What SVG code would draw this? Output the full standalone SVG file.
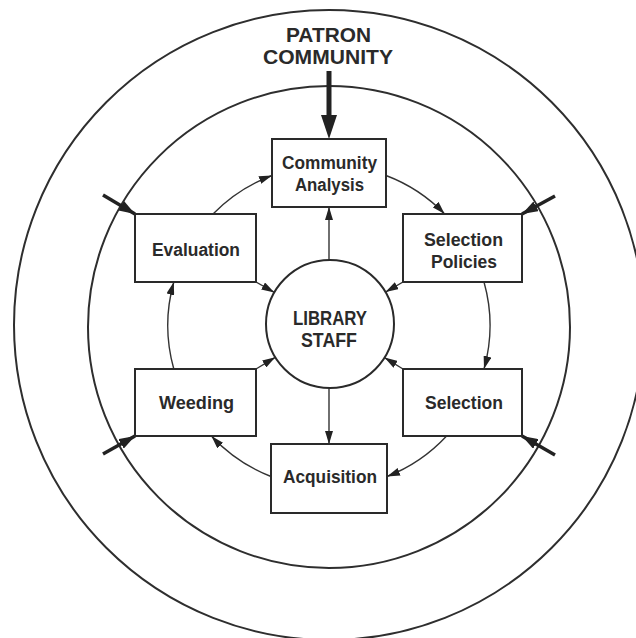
<svg xmlns="http://www.w3.org/2000/svg" width="636" height="638" viewBox="0 0 636 638">
<defs>
<style>
.ring{fill:none;stroke:#2e2e2e;stroke-width:2}
.box{fill:#fff;stroke:#2a2a2a;stroke-width:2}
.ln{fill:none;stroke:#333;stroke-width:1.4}
.thick{fill:none;stroke:#222;stroke-width:3.5}
text{font-family:"Liberation Sans",Arial,sans-serif;font-weight:bold;fill:#2a2a2a;text-anchor:middle}
.bt{font-size:17.5px}
.ct{font-size:21px}
.pt{font-size:19.5px}
</style>
<marker id="ah" markerUnits="userSpaceOnUse" markerWidth="13" markerHeight="8" refX="13" refY="4" orient="auto">
<path d="M0,0 L13,4 L0,8 z" fill="#222"/>
</marker>
<marker id="ahc" markerUnits="userSpaceOnUse" markerWidth="16" markerHeight="11" refX="16" refY="5.5" orient="auto">
<path d="M0,0 L16,5.5 L0,11 z" fill="#222"/>
</marker>
</defs>
<g id="patron-community">
<circle class="ring" cx="329" cy="325" r="315"/>
<text class="pt" x="328.5" y="42" textLength="85" lengthAdjust="spacingAndGlyphs">PATRON</text>
<text class="pt" x="328" y="64" textLength="130" lengthAdjust="spacingAndGlyphs">COMMUNITY</text>
</g>
<g id="library-ring">
<circle class="ring" cx="329" cy="327" r="241"/>
</g>
<g id="connectors">
<line x1="329" y1="71" x2="329" y2="118" stroke="#222" stroke-width="5"/>
<polygon points="321,115 337,115 329,139" fill="#222"/>
<line class="thick" x1="103" y1="195" x2="135" y2="214" marker-end="url(#ahc)"/>
<line class="thick" x1="555" y1="196" x2="522" y2="214" marker-end="url(#ahc)"/>
<line class="thick" x1="103" y1="454" x2="135" y2="436" marker-end="url(#ahc)"/>
<line class="thick" x1="555" y1="455" x2="522" y2="436" marker-end="url(#ahc)"/>
<path class="ln" d="M213,214 A161,161 0 0 1 272,175.5" marker-end="url(#ah)"/>
<path class="ln" d="M386,175.5 A161,161 0 0 1 444.7,214" marker-end="url(#ah)"/>
<path class="ln" d="M484,282 A161,161 0 0 1 484,369" marker-end="url(#ah)"/>
<path class="ln" d="M446.6,436 A161,161 0 0 1 387,476.5" marker-end="url(#ah)"/>
<path class="ln" d="M271,476.5 A161,161 0 0 1 211.4,436" marker-end="url(#ah)"/>
<path class="ln" d="M173.8,369 A161,161 0 0 1 173.8,282" marker-end="url(#ah)"/>
<line class="ln" x1="329" y1="260" x2="329" y2="207" marker-end="url(#ah)"/>
<line class="ln" x1="329" y1="388" x2="329" y2="444" marker-end="url(#ah)"/>
<line class="ln" x1="256" y1="282" x2="274.4" y2="292.4" marker-end="url(#ah)"/>
<line class="ln" x1="403" y1="282" x2="385.5" y2="292.1" marker-end="url(#ah)"/>
<line class="ln" x1="256" y1="369" x2="275.3" y2="357.3" marker-end="url(#ah)"/>
<line class="ln" x1="403" y1="369" x2="384.5" y2="357.6" marker-end="url(#ah)"/>
</g>
<g id="library-staff">
<circle cx="330" cy="324" r="64" fill="#fff" stroke="#2a2a2a" stroke-width="2"/>
<text class="ct" x="330" y="325" textLength="74" lengthAdjust="spacingAndGlyphs">LIBRARY</text>
<text class="ct" x="329" y="347" textLength="56" lengthAdjust="spacingAndGlyphs">STAFF</text>
</g>
<g id="community-analysis">
<rect class="box" x="272" y="139" width="114" height="68"/>
<text class="bt" x="329.5" y="169" textLength="95" lengthAdjust="spacingAndGlyphs">Community</text>
<text class="bt" x="329.5" y="191" textLength="69" lengthAdjust="spacingAndGlyphs">Analysis</text>
</g>
<g id="selection-policies">
<rect class="box" x="403" y="214" width="119" height="68"/>
<text class="bt" x="463.5" y="246" textLength="79" lengthAdjust="spacingAndGlyphs">Selection</text>
<text class="bt" x="464" y="268" textLength="66" lengthAdjust="spacingAndGlyphs">Policies</text>
</g>
<g id="evaluation">
<rect class="box" x="135" y="214" width="121" height="68"/>
<text class="bt" x="196" y="256" textLength="88" lengthAdjust="spacingAndGlyphs">Evaluation</text>
</g>
<g id="weeding">
<rect class="box" x="135" y="369" width="121" height="67"/>
<text class="bt" x="196.5" y="409" textLength="75" lengthAdjust="spacingAndGlyphs">Weeding</text>
</g>
<g id="selection">
<rect class="box" x="403" y="369" width="119" height="67"/>
<text class="bt" x="464" y="409" textLength="78" lengthAdjust="spacingAndGlyphs">Selection</text>
</g>
<g id="acquisition">
<rect class="box" x="271" y="444" width="116" height="69"/>
<text class="bt" x="330" y="483" textLength="94" lengthAdjust="spacingAndGlyphs">Acquisition</text>
</g>
</svg>
